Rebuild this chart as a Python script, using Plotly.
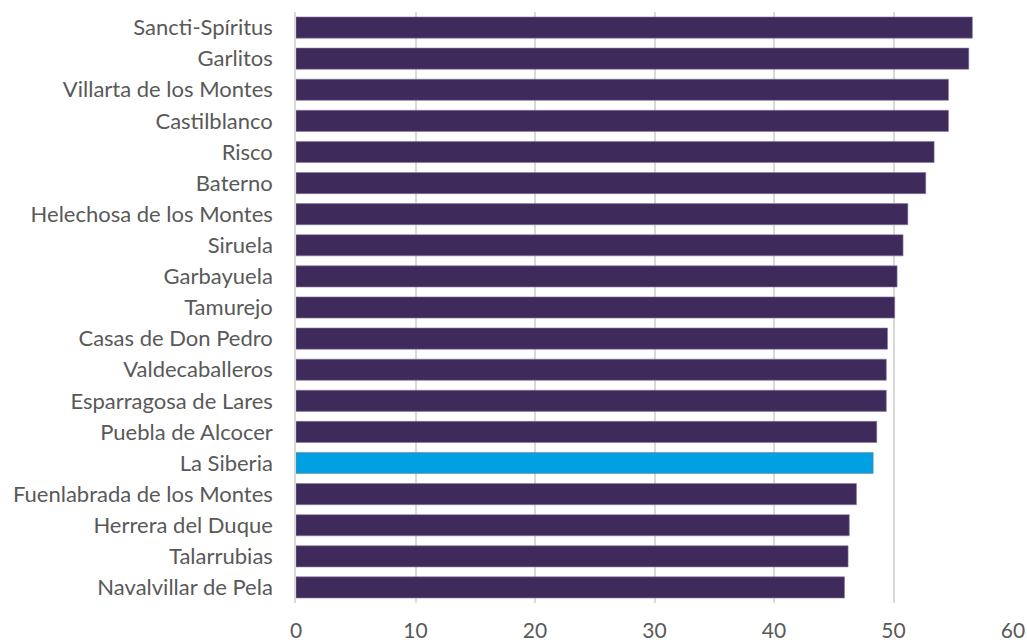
import plotly.graph_objects as go

categories = ["Sancti-Spíritus", "Garlitos", "Villarta de los Montes", "Castilblanco", "Risco",
              "Baterno", "Helechosa de los Montes", "Siruela", "Garbayuela", "Tamurejo",
              "Casas de Don Pedro", "Valdecaballeros", "Esparragosa de Lares", "Puebla de Alcocer",
              "La Siberia", "Fuenlabrada de los Montes", "Herrera del Duque", "Talarrubias",
              "Navalvillar de Pela"]
values = [56.6, 56.3, 54.6, 54.6, 53.4, 52.7, 51.2, 50.8, 50.3, 50.1,
          49.5, 49.4, 49.4, 48.6, 48.3, 46.9, 46.3, 46.2, 45.9]
highlight = "La Siberia"
tick_vals = [0, 10, 20, 30, 40, 50, 60]

colors = ["#00A0E3" if c == highlight else "#3F2A5C" for c in categories]

fig = go.Figure(go.Bar(
    x=values, y=categories, orientation="h",
    marker=dict(color=colors, line=dict(color="#8a7aa0", width=0.6)),
))

fig.update_layout(
    width=1027, height=644,
    margin=dict(l=296, r=14, t=12, b=41),
    paper_bgcolor="white", plot_bgcolor="white",
    bargap=0.32,
    showlegend=False,
    font=dict(family="Lato, Carlito, Calibri, sans-serif", color="#595959"),
)
fig.update_xaxes(
    range=[0, 60], tickvals=tick_vals, showgrid=True, gridcolor="#d9d9d9", gridwidth=2,
    zeroline=False, showline=False, tickfont=dict(size=21, color="#595959"),
    ticks="", ticklabelstandoff=13, fixedrange=True, automargin=False,
)
fig.update_yaxes(
    autorange="reversed", showline=True, linecolor="#d9d9d9", linewidth=1.5,
    tickfont=dict(size=22, color="#595959"), ticks="", ticklabelstandoff=17,
    automargin=False,
)

fig.write_html("out.html", config={"displayModeBar": False},
               post_script="document.body.style.margin='0';document.body.style.overflow='hidden';")
